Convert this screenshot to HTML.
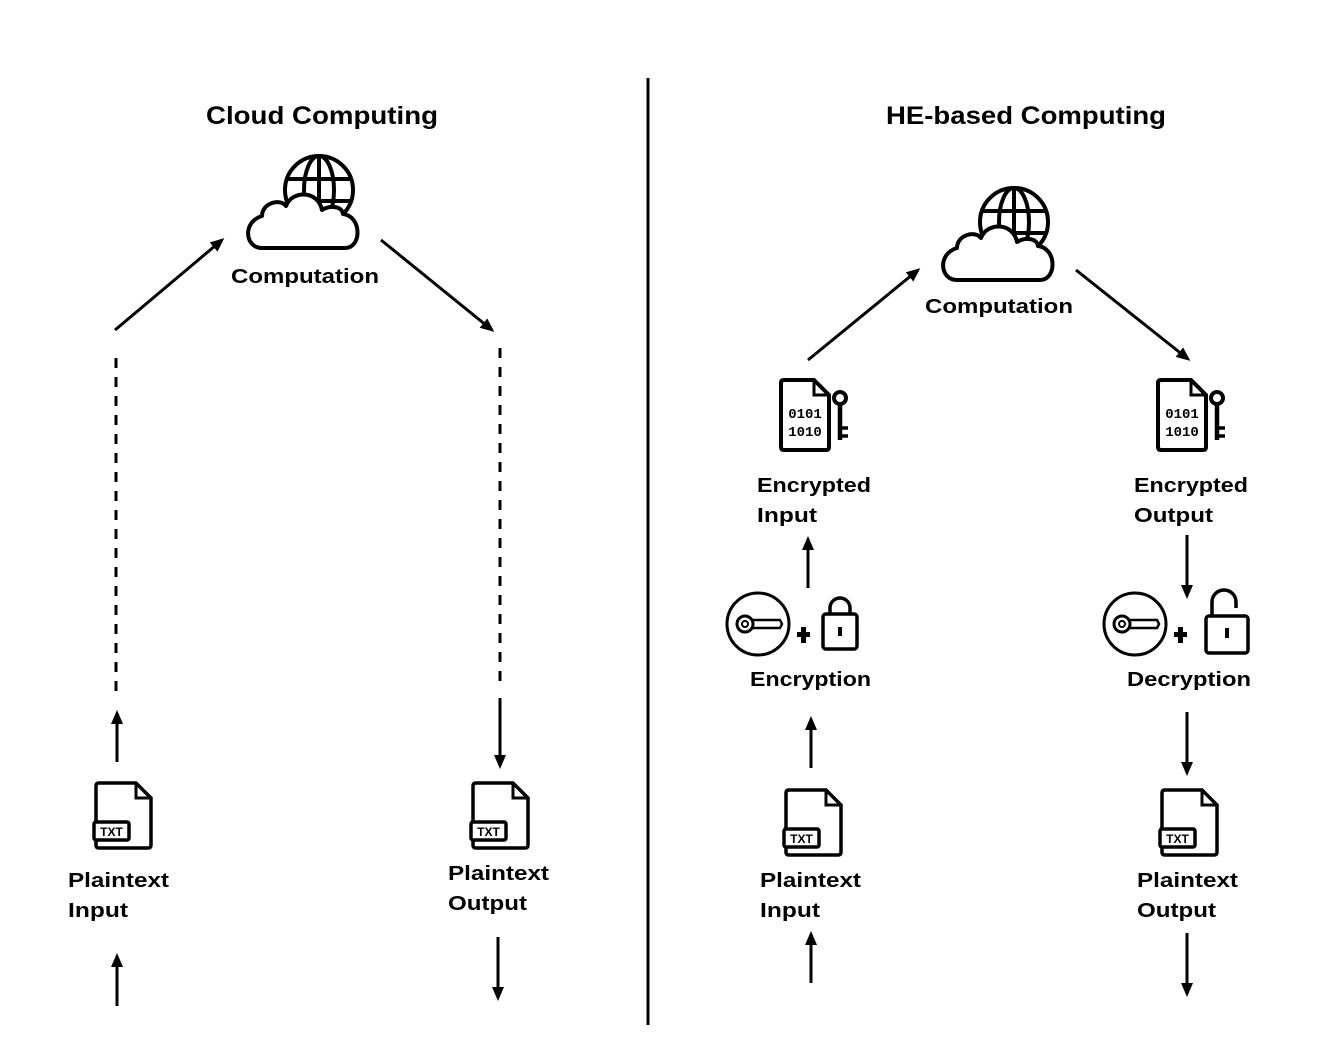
<!DOCTYPE html>
<html><head><style>html,body{margin:0;padding:0;background:#fff}svg{display:block}</style></head>
<body>
<svg width="1341" height="1043" viewBox="0 0 1341 1043" xmlns="http://www.w3.org/2000/svg" font-family="Liberation Sans, Arial, sans-serif" font-weight="bold" fill="#000">
<defs>
<marker id="ah" markerWidth="14" markerHeight="12" refX="11" refY="6" orient="auto" markerUnits="userSpaceOnUse"><path d="M0,0 L14,6 L0,12 z" fill="#000"/></marker>
<g id="cloud">
 <circle cx="319" cy="190" r="34" fill="none" stroke="#000" stroke-width="4"/>
 <ellipse cx="319" cy="190" rx="15" ry="34" fill="none" stroke="#000" stroke-width="4"/>
 <line x1="319" y1="156" x2="319" y2="224" stroke="#000" stroke-width="4"/>
 <line x1="287" y1="179" x2="351" y2="179" stroke="#000" stroke-width="4"/>
 <line x1="287" y1="201" x2="351" y2="201" stroke="#000" stroke-width="4"/>
 <path d="M262,248 C245,248 242,222 262,216 C262,203 280,198 286,206 C292,190 318,190 322,210 C330,205 342,206 343,214 C362,216 362,248 345,248 Z" fill="#fff" stroke="#000" stroke-width="4" stroke-linejoin="round"/>
</g>
<g id="txt">
 <path d="M0,3 Q0,0 3,0 L40,0 L55,15 L55,62 Q55,65 52,65 L3,65 Q0,65 0,62 Z" fill="#fff" stroke="#000" stroke-width="3.5"/>
 <path d="M40,0 L40,15 L55,15" fill="none" stroke="#000" stroke-width="3"/>
 <rect x="-2" y="39" width="35" height="18" rx="2" fill="#fff" stroke="#000" stroke-width="3.5"/>
 <text x="15.5" y="53" font-size="12" text-anchor="middle">TXT</text>
</g>
<g id="enc">
 <path d="M0,3 Q0,0 3,0 L33,0 L48,15 L48,67 Q48,70 45,70 L3,70 Q0,70 0,67 Z" fill="#fff" stroke="#000" stroke-width="4"/>
 <path d="M33,0 L33,15 L48,15" fill="none" stroke="#000" stroke-width="3"/>
 <text x="24" y="38" font-size="14" text-anchor="middle" font-family="Liberation Mono, monospace" font-weight="bold">0101</text>
 <text x="24" y="56" font-size="14" text-anchor="middle" font-family="Liberation Mono, monospace" font-weight="bold">1010</text>
 <circle cx="59" cy="18" r="6" fill="none" stroke="#000" stroke-width="4"/>
 <line x1="59" y1="24" x2="59" y2="60" stroke="#000" stroke-width="4.5"/>
 <line x1="59" y1="48" x2="67" y2="48" stroke="#000" stroke-width="3.5"/>
 <line x1="59" y1="56" x2="67" y2="56" stroke="#000" stroke-width="3.5"/>
</g>
<g id="keyc">
 <circle cx="0" cy="0" r="31" fill="none" stroke="#000" stroke-width="3"/>
 <circle cx="-13" cy="0" r="8" fill="none" stroke="#000" stroke-width="3"/>
 <circle cx="-13" cy="0" r="3" fill="none" stroke="#000" stroke-width="2"/>
 <path d="M-5,-4 L22,-4 L24,0 L22,4 L-5,4" fill="none" stroke="#000" stroke-width="2.5"/>
 <rect x="43" y="3" width="5" height="16" fill="#000"/><rect x="39" y="8" width="13" height="5" fill="#000"/>
</g>
</defs>

<line x1="648" y1="78" x2="648" y2="1025" stroke="#000" stroke-width="3"/>

<text x="322" y="124" font-size="25" text-anchor="middle" textLength="232" lengthAdjust="spacingAndGlyphs">Cloud Computing</text>
<text x="1026" y="124" font-size="25" text-anchor="middle" textLength="280" lengthAdjust="spacingAndGlyphs">HE-based Computing</text>

<!-- left side -->
<use href="#cloud"/>
<text x="305" y="283" font-size="20" text-anchor="middle" textLength="148" lengthAdjust="spacingAndGlyphs">Computation</text>
<g stroke="#000" stroke-width="3" fill="none">
 <line x1="115" y1="330" x2="222" y2="240" marker-end="url(#ah)"/>
 <line x1="381" y1="240" x2="492" y2="330" marker-end="url(#ah)"/>
 <line x1="116" y1="358" x2="116" y2="700" stroke-dasharray="10,9"/>
 <line x1="500" y1="348" x2="500" y2="685" stroke-dasharray="10,9"/>
 <line x1="117" y1="762" x2="117" y2="713" marker-end="url(#ah)"/>
 <line x1="117" y1="1006" x2="117" y2="956" marker-end="url(#ah)"/>
 <line x1="500" y1="698" x2="500" y2="766" marker-end="url(#ah)"/>
 <line x1="498" y1="937" x2="498" y2="998" marker-end="url(#ah)"/>
</g>
<use href="#txt" x="96" y="783"/>
<use href="#txt" x="473" y="783"/>
<text font-size="20" x="68" y="887" textLength="101" lengthAdjust="spacingAndGlyphs">Plaintext</text>
<text font-size="20" x="68" y="917" textLength="60" lengthAdjust="spacingAndGlyphs">Input</text>
<text font-size="20" x="448" y="880" textLength="101" lengthAdjust="spacingAndGlyphs">Plaintext</text>
<text font-size="20" x="448" y="910" textLength="79" lengthAdjust="spacingAndGlyphs">Output</text>

<!-- right side -->
<use href="#cloud" x="695" y="32"/>
<text x="999" y="313" font-size="20" text-anchor="middle" textLength="148" lengthAdjust="spacingAndGlyphs">Computation</text>
<g stroke="#000" stroke-width="3" fill="none">
 <line x1="808" y1="360" x2="918" y2="270" marker-end="url(#ah)"/>
 <line x1="1076" y1="270" x2="1188" y2="359" marker-end="url(#ah)"/>
 <line x1="808" y1="588" x2="808" y2="539" marker-end="url(#ah)"/>
 <line x1="811" y1="768" x2="811" y2="719" marker-end="url(#ah)"/>
 <line x1="811" y1="983" x2="811" y2="934" marker-end="url(#ah)"/>
 <line x1="1187" y1="535" x2="1187" y2="596" marker-end="url(#ah)"/>
 <line x1="1187" y1="712" x2="1187" y2="773" marker-end="url(#ah)"/>
 <line x1="1187" y1="933" x2="1187" y2="994" marker-end="url(#ah)"/>
</g>
<use href="#enc" x="781" y="380"/>
<use href="#enc" x="1158" y="380"/>
<text font-size="20" x="757" y="492" textLength="114" lengthAdjust="spacingAndGlyphs">Encrypted</text>
<text font-size="20" x="757" y="522" textLength="60" lengthAdjust="spacingAndGlyphs">Input</text>
<text font-size="20" x="1134" y="492" textLength="114" lengthAdjust="spacingAndGlyphs">Encrypted</text>
<text font-size="20" x="1134" y="522" textLength="79" lengthAdjust="spacingAndGlyphs">Output</text>

<use href="#keyc" x="758" y="624"/>
<use href="#keyc" x="1135" y="624"/>
<!-- closed lock -->
<path d="M830,614 L830,608 A10,10 0 0 1 850,608 L850,614" fill="none" stroke="#000" stroke-width="3.5"/>
<rect x="823" y="614" width="34" height="35" rx="3" fill="none" stroke="#000" stroke-width="3.5"/>
<rect x="838" y="627" width="4" height="9" fill="#000"/>
<!-- open lock -->
<path d="M1212,616 L1212,602 A12,12 0 0 1 1236,602 L1236,608" fill="none" stroke="#000" stroke-width="3.5"/>
<rect x="1206" y="616" width="42" height="37" rx="3" fill="none" stroke="#000" stroke-width="3.5"/>
<rect x="1225" y="628" width="4" height="10" fill="#000"/>

<text font-size="20" x="750" y="686" textLength="121" lengthAdjust="spacingAndGlyphs">Encryption</text>
<text font-size="20" x="1127" y="686" textLength="124" lengthAdjust="spacingAndGlyphs">Decryption</text>

<use href="#txt" x="786" y="790"/>
<use href="#txt" x="1162" y="790"/>
<text font-size="20" x="760" y="887" textLength="101" lengthAdjust="spacingAndGlyphs">Plaintext</text>
<text font-size="20" x="760" y="917" textLength="60" lengthAdjust="spacingAndGlyphs">Input</text>
<text font-size="20" x="1137" y="887" textLength="101" lengthAdjust="spacingAndGlyphs">Plaintext</text>
<text font-size="20" x="1137" y="917" textLength="79" lengthAdjust="spacingAndGlyphs">Output</text>
</svg>
</body></html>
